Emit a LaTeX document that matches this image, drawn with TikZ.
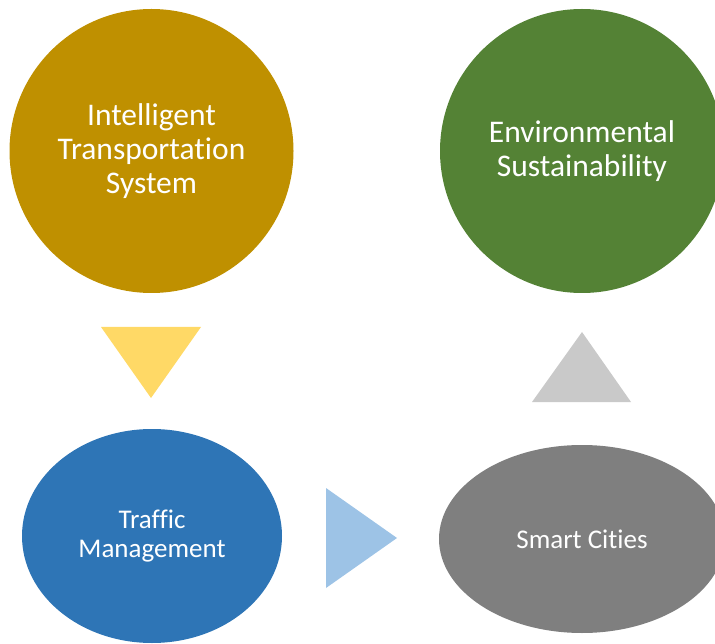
\documentclass[tikz,border=0pt]{standalone}
\usepackage{fontspec}
\setmainfont{Carlito}[Ligatures=NoCommon]
\usetikzlibrary{shapes.geometric}

\definecolor{its}{HTML}{BF9000}
\definecolor{env}{HTML}{548235}
\definecolor{traffic}{HTML}{2E75B6}
\definecolor{smart}{HTML}{7F7F7F}
\definecolor{tri1}{HTML}{FFD966}
\definecolor{tri2}{HTML}{9DC3E6}
\definecolor{tri3}{HTML}{C9C9C9}

\tikzset{
  big/.style={circle, minimum size=284pt, inner sep=0pt, text=white, align=center,
    font=\fontsize{31.5}{34}\selectfont},
  oval/.style={ellipse, inner sep=0pt, text=white, align=center,
    font=\fontsize{27}{29}\selectfont}
}

\begin{document}
\begin{tikzpicture}[x=1pt, y=-1pt]
    \useasboundingbox (0,0) rectangle (715,644);
    \clip (0,0) rectangle (715,644);

    % the four stages
    \node[big, fill=its] (its) at (151.5,151) {Intelligent\\Transportation\\System};
    \node[big, fill=env] (env) at (582,151) {Environmental\\Sustainability};
    \node[oval, fill=traffic, minimum width=260pt, minimum height=214pt] (tm) at (152,536) {Traffic\\Management};
    \node[oval, fill=smart, minimum width=286pt, minimum height=188pt] (sc) at (582,539) {Smart Cities};

    % triangles between them
    \fill[tri1] (101,327) -- (201,327) -- (151,398) -- cycle;
    \fill[tri2] (326,488) -- (397,538) -- (326,588) -- cycle;
    \fill[tri3] (532,402) -- (631,402) -- (582,332) -- cycle;
\end{tikzpicture}
\end{document}
